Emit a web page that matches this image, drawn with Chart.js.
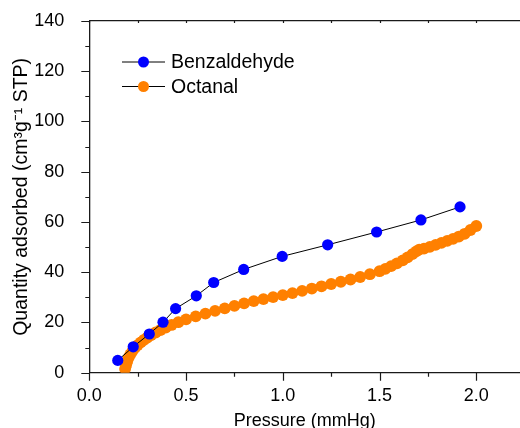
<!DOCTYPE html>
<html>
<head>
<meta charset="utf-8">
<script src="https://cdn.jsdelivr.net/npm/chart.js@4.4.1/dist/chart.umd.min.js"></script>
<style>
  html, body { margin: 0; padding: 0; background: #fff; }
  #wrap { width: 520px; height: 428px; }
</style>
</head>
<body>
<div id="wrap"><canvas id="chart" width="520" height="428"></canvas></div>
<script>
// ── Isotherm data ──
const benzPressure = [0.147, 0.227, 0.31, 0.381, 0.446, 0.553, 0.643, 0.798, 0.997, 1.232, 1.485, 1.714, 1.916];
const benzQuantity = [4.9, 10.3, 15.4, 20.1, 25.5, 30.6, 35.9, 41.1, 46.3, 50.9, 56.0, 60.8, 66.0];

const octPressure = [
  0.185, 0.19, 0.196, 0.203, 0.212, 0.223, 0.236, 0.25, 0.266, 0.283,
  0.30, 0.32, 0.343, 0.368, 0.395, 0.425, 0.46,
  0.50, 0.55, 0.60, 0.65, 0.70, 0.75, 0.80, 0.85, 0.90, 0.95,
  1.00, 1.05, 1.10, 1.15, 1.20, 1.25, 1.30, 1.35, 1.40, 1.45,
  1.50, 1.53, 1.56, 1.59, 1.62, 1.645, 1.67, 1.69, 1.705,
  1.73, 1.76, 1.79, 1.82, 1.85, 1.88, 1.91, 1.94, 1.97, 2.00
];
const octQuantity = [
  1.5, 3.0, 4.5, 6.0, 7.3, 8.6, 9.9, 11.0, 12.1, 13.1,
  14.0, 15.0, 16.0, 17.0, 18.0, 19.0, 20.1,
  21.2, 22.4, 23.5, 24.6, 25.6, 26.6, 27.6, 28.5, 29.3, 30.1,
  30.9, 31.7, 32.6, 33.5, 34.4, 35.3, 36.2, 37.1, 38.1, 39.2,
  40.4, 41.3, 42.4, 43.5, 44.7, 45.9, 47.2, 48.3, 49.0,
  49.4, 50.1, 50.9, 51.7, 52.5, 53.3, 54.2, 55.3, 56.8, 58.4
];

const xTickValues = [0, 0.5, 1.0, 1.5, 2.0];
const yTickValues = [0, 20, 40, 60, 80, 100, 120, 140];

const X_MAX = 2.226;
const Y_MAX = 140;
const FONT = "'Liberation Sans', Arial, sans-serif";
const AXIS_COLOR = "#1a1a1a";

const toPoints = (xs, ys) => xs.map((x, i) => ({ x, y: ys[i] }));

// no extra room for overhanging tick labels: the frame is fixed
const noPadding = s => { s.paddingLeft = s.paddingRight = s.paddingTop = s.paddingBottom = 0; };

// ── Tick marks (major outward, minor shorter) ──
const tickMarks = {
  id: "tickMarks",
  afterDraw(chart) {
    const { ctx, chartArea: a, scales } = chart;
    const sx = scales.x, sy = scales.y;
    ctx.save();
    ctx.strokeStyle = AXIS_COLOR;
    ctx.lineWidth = 1.2;
    ctx.beginPath();
    for (let i = 0; i * 0.25 <= X_MAX; i++) {
      const px = Math.round(sx.getPixelForValue(i * 0.25)) + 0.5;
      const len = i % 2 === 0 ? 8 : 4;
      ctx.moveTo(px, a.bottom);
      ctx.lineTo(px, a.bottom + len);
      ctx.moveTo(px, a.top);
      ctx.lineTo(px, a.top + 2);
    }
    for (let v = 0; v <= Y_MAX; v += 10) {
      const py = Math.round(sy.getPixelForValue(v)) + 0.5;
      const len = v % 20 === 0 ? 8 : 4;
      ctx.moveTo(a.left, py);
      ctx.lineTo(a.left - len, py);
    }
    ctx.stroke();
    ctx.restore();
  }
};

// ── Legend: line through marker, label on the right ──
const lineLegend = {
  id: "lineLegend",
  afterDraw(chart) {
    const { ctx } = chart;
    const rows = [chart.data.datasets[0], chart.data.datasets[1]];
    ctx.save();
    rows.forEach((ds, i) => {
      const y = 62 + i * 24.5;
      ctx.strokeStyle = ds.borderColor;
      ctx.lineWidth = 1;
      ctx.beginPath();
      ctx.moveTo(122, y);
      ctx.lineTo(165, y);
      ctx.stroke();
      ctx.fillStyle = ds.pointBackgroundColor;
      ctx.beginPath();
      ctx.arc(143.5, y, 5.5, 0, Math.PI * 2);
      ctx.fill();
      ctx.fillStyle = "#000";
      ctx.font = "19.5px " + FONT;
      ctx.textBaseline = "middle";
      ctx.fillText(ds.label, 171, y + 1);
    });
    ctx.restore();
  }
};

new Chart(document.getElementById("chart"), {
  type: "line",
  data: {
    datasets: [
      {
        label: "Benzaldehyde",
        data: toPoints(benzPressure, benzQuantity),
        borderColor: "#000",
        borderWidth: 1,
        pointBackgroundColor: "#0000ff",
        pointBorderColor: "#0000ff",
        pointBorderWidth: 0,
        pointRadius: 5.6,
        tension: 0,
      },
      {
        label: "Octanal",
        data: toPoints(octPressure, octQuantity),
        borderColor: "#000",
        borderWidth: 1,
        pointBackgroundColor: "#ff8000",
        pointBorderColor: "#ff8000",
        pointBorderWidth: 0,
        pointRadius: 5.9,
        tension: 0,
      },
    ],
  },
  options: {
    responsive: false,
    animation: false,
    devicePixelRatio: 1,
    layout: { autoPadding: false, padding: 0 },
    plugins: { legend: { display: false }, tooltip: { enabled: false } },
    scales: {
      x: {
        type: "linear",
        position: "bottom",
        min: 0,
        max: X_MAX,
        afterBuildTicks: s => { s.ticks = xTickValues.map(value => ({ value })); },
        afterFit: s => { s.height = 55.3; noPadding(s); },
        grid: { display: false },
        border: { display: true, color: AXIS_COLOR, width: 1.3 },
        ticks: {
          color: "#000",
          padding: 5,
          maxRotation: 0,
          font: { family: FONT, size: 18 },
          callback: v => v.toFixed(1),
        },
        title: {
          display: true,
          text: "Pressure (mmHg)",
          color: "#000",
          padding: { top: 0, bottom: -4 },
          font: { family: FONT, size: 18 },
        },
      },
      x2: {
        type: "linear",
        position: "top",
        min: 0,
        max: X_MAX,
        afterFit: s => { s.height = 21; noPadding(s); },
        grid: { display: false },
        border: { display: true, color: AXIS_COLOR, width: 1.3 },
        ticks: { display: false },
      },
      y: {
        type: "linear",
        min: 0,
        max: Y_MAX,
        afterBuildTicks: s => { s.ticks = yTickValues.map(value => ({ value })); },
        afterFit: s => { s.width = 89.3; noPadding(s); },
        grid: { display: false },
        border: { display: true, color: AXIS_COLOR, width: 1.3 },
        ticks: {
          color: "#000",
          padding: 17,
          font: { family: FONT, size: 18 },
        },
        title: {
          display: true,
          text: "Quantity adsorbed (cm³g⁻¹ STP)",
          color: "#000",
          padding: { top: 10, bottom: 0 },
          font: { family: FONT, size: 19.5 },
        },
      },
    },
  },
  plugins: [tickMarks, lineLegend],
});
</script>
</body>
</html>
